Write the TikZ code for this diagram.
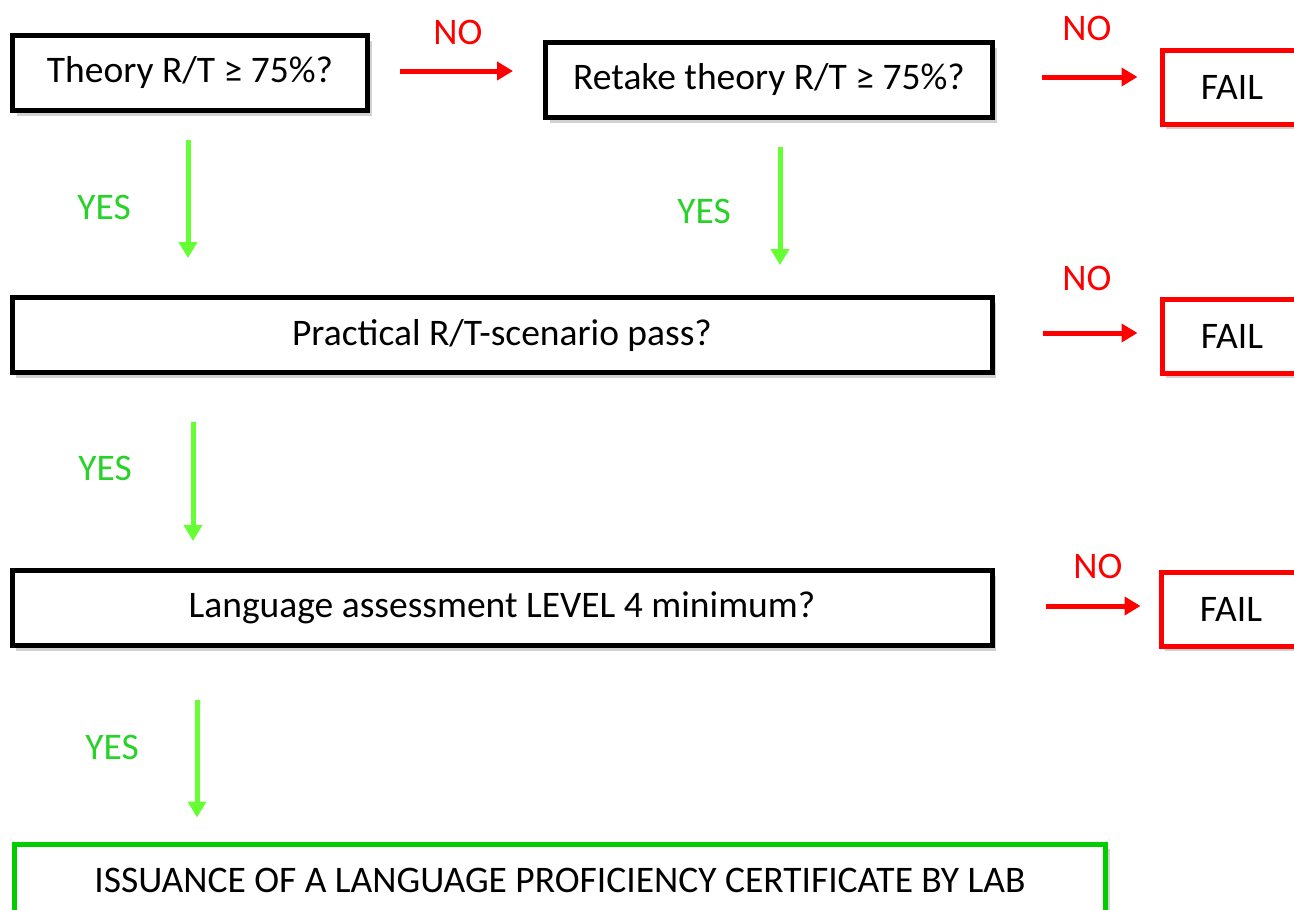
\documentclass[tikz,border=0pt]{standalone}
\usepackage{fontspec}
\setmainfont{Carlito}
\usetikzlibrary{arrows.meta,shadows}
\definecolor{nored}{RGB}{255,0,0}
\definecolor{yesgreen}{RGB}{40,210,40}
\definecolor{yesline}{RGB}{102,255,51}
\definecolor{certgreen}{RGB}{0,204,0}
\tikzset{
  qbox/.style={rectangle,draw=black,line width=5pt,fill=white,minimum height=75pt,inner sep=0pt,
    drop shadow={shadow xshift=4pt,shadow yshift=-5pt,fill=black!35}},
  failbox/.style={qbox,draw=nored,minimum width=140pt,minimum height=74pt},
  certbox/.style={qbox,draw=certgreen,minimum width=1091pt,minimum height=72pt},
  noarr/.style={draw=nored,line width=5pt,-{Triangle[length=16pt,width=18pt]}},
  yesarr/.style={draw=yesline,line width=5pt,-{Triangle[length=16pt,width=18pt]}},
  nolab/.style={text=nored,inner sep=0pt},
  yeslab/.style={text=yesgreen,inner sep=0pt},
  every picture/.style={line join=miter}
}
\begin{document}
\begin{tikzpicture}[x=1pt,y=-1pt,font=\fontsize{37.5}{42}\selectfont]
  \useasboundingbox (0,0) rectangle (1294,910);
  \node[qbox,minimum width=355pt] (thy) at (190,73) {Theory R/T ≥ 75\%?};
  \node[qbox,minimum width=447pt] (rtk) at (769,80) {Retake theory R/T ≥ 75\%?};
  \node[failbox] (fail1) at (1232,87) {FAIL};
  \node[qbox,minimum width=980pt] (prac) at (502,335) {Practical R/T-scenario pass?};
  \node[failbox] (fail2) at (1232,336) {FAIL};
  \node[qbox,minimum width=980pt] (lang) at (502,608) {Language assessment LEVEL 4 minimum?};
  \node[failbox] (fail3) at (1231,609) {FAIL};
  \node[certbox] (cert) at (560,880) {ISSUANCE OF A LANGUAGE PROFICIENCY CERTIFICATE BY LAB};
  \draw[noarr,shorten <=30pt,shorten >=30pt] ([yshift=2pt]thy.east) -- ([yshift=2pt]thy.east -| rtk.west);
  \draw[noarr,shorten <=47pt,shorten >=22pt] ([yshift=3pt]rtk.east) -- ([yshift=3pt]rtk.east -| fail1.west);
  \draw[noarr,shorten <=48pt,shorten >=22pt] ([yshift=2pt]prac.east) -- ([yshift=2pt]prac.east -| fail2.west);
  \draw[noarr,shorten <=51pt,shorten >=18pt] ([yshift=2pt]lang.east) -- ([yshift=2pt]lang.east -| fail3.west);
  \draw[yesarr,shorten <=27pt,shorten >=37pt] ([xshift=-2pt]thy.south) -- ([xshift=-2pt]thy.south |- prac.north);
  \draw[yesarr,shorten <=27pt,shorten >=30pt] ([xshift=11pt]rtk.south) -- ([xshift=11pt]rtk.south |- prac.north);
  \draw[yesarr,shorten <=47pt,shorten >=27pt] ([xshift=3pt]thy.south |- prac.south) -- ([xshift=3pt]thy.south |- lang.north);
  \draw[yesarr,shorten <=52pt,shorten >=24pt] ([xshift=7pt]thy.south |- lang.south) -- ([xshift=7pt]thy.south |- cert.north);
  \node[nolab] (no1) at (458,32) {NO};
  \node[nolab] (no2) at (1087,28) {NO};
  \node[nolab] (no3) at (1087,278) {NO};
  \node[nolab] (no4) at (1098,566) {NO};
  \node[yeslab] (yes1) at (104,207) {YES};
  \node[yeslab] (yes2) at (704,211) {YES};
  \node[yeslab] (yes3) at (105,468) {YES};
  \node[yeslab] (yes4) at (112,747) {YES};
\end{tikzpicture}
\end{document}
